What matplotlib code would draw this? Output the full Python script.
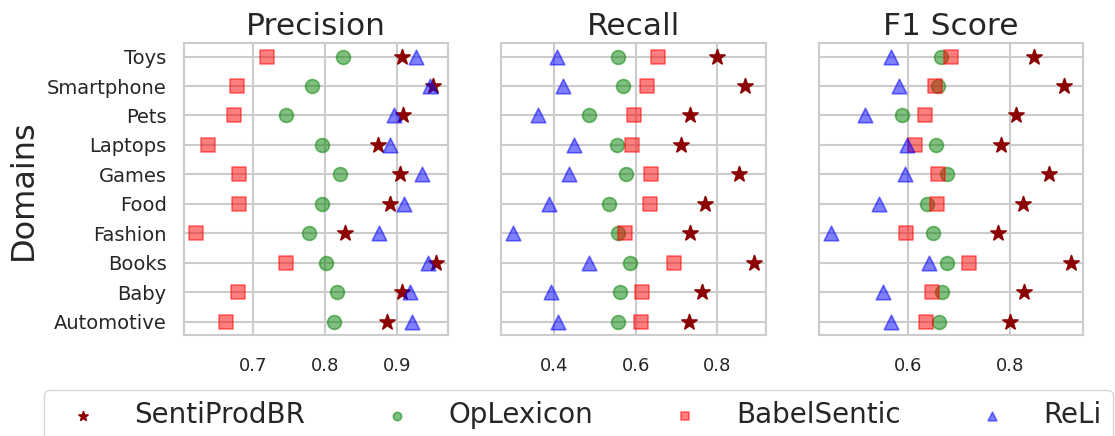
import matplotlib
matplotlib.use("Agg")
import matplotlib.pyplot as plt
import seaborn as sns

domains = ["Automotive", "Baby", "Books", "Fashion", "Food",
           "Games", "Laptops", "Pets", "Smartphone", "Toys"]
methods = ["SentiProdBR", "OpLexicon", "BabelSentic", "ReLi"]
metrics = ["Precision", "Recall", "F1 Score"]

# values per domain (same order as `domains`)
precision = {
    "SentiProdBR": [0.886, 0.906, 0.954, 0.828, 0.890, 0.903, 0.873, 0.908, 0.950, 0.907],
    "OpLexicon":   [0.812, 0.817, 0.801, 0.777, 0.796, 0.821, 0.795, 0.746, 0.782, 0.825],
    "BabelSentic": [0.662, 0.679, 0.746, 0.621, 0.681, 0.680, 0.638, 0.674, 0.678, 0.720],
    "ReLi":        [0.920, 0.917, 0.943, 0.875, 0.909, 0.934, 0.890, 0.895, 0.945, 0.926],
}
recall = {
    "SentiProdBR": [0.731, 0.762, 0.889, 0.733, 0.770, 0.854, 0.710, 0.733, 0.868, 0.798],
    "OpLexicon":   [0.556, 0.562, 0.586, 0.556, 0.534, 0.576, 0.555, 0.485, 0.569, 0.556],
    "BabelSentic": [0.612, 0.616, 0.694, 0.573, 0.634, 0.638, 0.592, 0.596, 0.628, 0.654],
    "ReLi":        [0.410, 0.393, 0.486, 0.300, 0.388, 0.436, 0.449, 0.361, 0.422, 0.408],
}
f1 = {
    "SentiProdBR": [0.801, 0.829, 0.921, 0.778, 0.826, 0.878, 0.783, 0.812, 0.908, 0.849],
    "OpLexicon":   [0.661, 0.666, 0.677, 0.649, 0.638, 0.677, 0.654, 0.588, 0.658, 0.664],
    "BabelSentic": [0.636, 0.646, 0.719, 0.596, 0.656, 0.658, 0.614, 0.633, 0.652, 0.685],
    "ReLi":        [0.567, 0.551, 0.642, 0.447, 0.543, 0.594, 0.597, 0.514, 0.581, 0.566],
}
xticks = [[0.7, 0.8, 0.9], [0.4, 0.6, 0.8], [0.6, 0.8]]

styles = {
    "SentiProdBR": dict(marker="*", color="darkred", alpha=1.0, s=130),
    "OpLexicon":   dict(marker="o", color="green", alpha=0.5, s=100),
    "BabelSentic": dict(marker="s", color="red", alpha=0.5, s=100),
    "ReLi":        dict(marker="^", color="blue", alpha=0.5, s=110),
}

sns.set_style("whitegrid")
plt.rcParams["font.family"] = ["DejaVu Sans"]
plt.rcParams["axes.edgecolor"] = "0.8"
plt.rcParams["axes.linewidth"] = 1.5
plt.rcParams["grid.linewidth"] = 1.5
plt.rcParams["grid.color"] = "0.8"

fig, axes = plt.subplots(1, 3, figsize=(11.15, 4.36), dpi=100, sharey=True)
fig.subplots_adjust(left=0.165, right=0.9713, bottom=0.2317, top=0.9007, wspace=0.2)

data = [precision, recall, f1]
ypos = list(range(len(domains)))
for ax, metric, d, xt in zip(axes, metrics, data, xticks):
    for m in methods:
        st = styles[m]
        ax.scatter(d[m], ypos, label=m, linewidths=1.2, **st)
    ax.set_title(metric, fontsize=22.5)
    ax.set_xticks(xt)
    ax.set_xticklabels([f"{v:.1f}" for v in xt])
    ax.tick_params(axis="x", labelsize=13, colors="0.15", pad=12)
    ax.tick_params(axis="y", labelsize=14, colors="0.15", pad=9)
    for sp in ax.spines.values():
        sp.set_color("0.8")
        sp.set_linewidth(1.5)

axes[0].set_yticks(ypos)
axes[0].set_yticklabels(domains)
axes[0].set_ylabel("Domains", fontsize=23, color="0.15", labelpad=5.5)

handles, labels = axes[0].get_legend_handles_labels()
fig.legend(handles, labels, loc="upper left", bbox_to_anchor=(44 / 1115, 1 - 390 / 436),
           borderaxespad=0, ncol=4, fontsize=20, markerscale=0.6, frameon=True,
           edgecolor="0.8", columnspacing=2.3, handletextpad=0.85)

fig.savefig("out.png", dpi=100)
